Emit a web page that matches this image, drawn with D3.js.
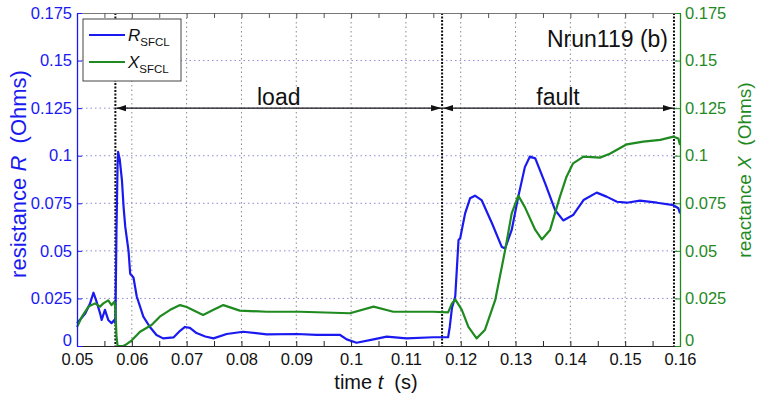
<!DOCTYPE html>
<html>
<head>
<meta charset="utf-8">
<script src="https://cdn.jsdelivr.net/npm/d3@7"></script>
<style>
  body { margin: 0; background: #fff; }
  svg { display: block; font-family: Arial, "Liberation Sans", sans-serif; }
</style>
</head>
<body>
<svg id="chart" width="760" height="397"></svg>
<script>
// SFCL resistance R (left axis) and reactance X (right axis) versus time, run Nrun119
const rTime = [0.0500,0.0509,0.0515,0.0524,0.0530,0.0536,0.0542,0.0545,0.0551,0.0557,0.0563,0.0568,0.0570,0.0572,0.0574,0.0575,0.0578,0.0582,0.0585,0.0588,0.0594,0.0597,0.0603,0.0609,0.0621,0.0633,0.0645,0.0657,0.0676,0.0688,0.0697,0.0706,0.0718,0.0734,0.0749,0.0773,0.0803,0.0846,0.0901,0.0937,0.0980,0.0992,0.1010,0.1041,0.1065,0.1101,0.1150,0.1177,0.1180,0.1184,0.1190,0.1196,0.1199,0.1208,0.1217,0.1226,0.1238,0.1257,0.1275,0.1281,0.1293,0.1305,0.1317,0.1326,0.1336,0.1354,0.1372,0.1387,0.1405,0.1424,0.1448,0.1466,0.1485,0.1503,0.1527,0.1558,0.1588,0.1597,0.1600];
const rValue = [0.012,0.015,0.017,0.0225,0.028,0.023,0.0173,0.0137,0.019,0.0137,0.012,0.0137,0.012,0.060,0.095,0.102,0.098,0.087,0.073,0.0627,0.050,0.038,0.036,0.026,0.0154,0.010,0.0058,0.004,0.0045,0.008,0.010,0.0095,0.0068,0.005,0.004,0.0063,0.0075,0.0061,0.0063,0.0058,0.0058,0.0035,0.0017,0.0035,0.0049,0.004,0.0046,0.0046,0.010,0.020,0.026,0.0557,0.0566,0.0697,0.0776,0.079,0.0767,0.0645,0.052,0.0513,0.061,0.0785,0.094,0.0995,0.0986,0.0855,0.0715,0.066,0.0688,0.0767,0.0806,0.0785,0.0758,0.0753,0.0764,0.0753,0.074,0.0724,0.0697];

const xTime = [0.0500,0.0509,0.0521,0.0533,0.0542,0.0548,0.0557,0.0563,0.0568,0.0570,0.0572,0.0574,0.0584,0.0588,0.0600,0.0615,0.0636,0.0651,0.0670,0.0688,0.0700,0.0730,0.0749,0.0767,0.0797,0.0846,0.0907,0.0998,0.1041,0.1077,0.1150,0.1177,0.1184,0.1190,0.1202,0.1214,0.1229,0.1244,0.1263,0.1281,0.1293,0.1305,0.1317,0.1336,0.1348,0.1363,0.1381,0.1393,0.1405,0.1424,0.1454,0.1472,0.1503,0.1533,0.1564,0.1588,0.1597,0.1600];
const xValue = [0.010,0.0154,0.0207,0.0224,0.0207,0.0224,0.024,0.0215,0.0233,0.020,0.005,0,0,0.0005,0.003,0.0075,0.011,0.0154,0.019,0.0215,0.0205,0.0163,0.019,0.0215,0.0186,0.018,0.018,0.0172,0.0207,0.018,0.018,0.0177,0.0224,0.0245,0.019,0.010,0.004,0.0084,0.0242,0.0504,0.0697,0.079,0.073,0.061,0.056,0.061,0.0785,0.089,0.096,0.0995,0.099,0.101,0.106,0.1074,0.1083,0.110,0.109,0.1056];

const timeTicks = [0.05,0.06,0.07,0.08,0.09,0.10,0.11,0.12,0.13,0.14,0.15,0.16];
const timeMinorTicks = [0.055,0.065,0.075,0.085,0.095,0.105,0.115,0.125,0.135,0.145,0.155];
const ohmTicks = [0,0.025,0.05,0.075,0.1,0.125,0.15,0.175];

// fault sequence markers: load start, fault start, end of record
const eventTimes = [0.0570,0.1166,0.1589];
const phaseNames = ["load","fault"];

const BLUE = "#1a1af0", GREEN = "#1f8a1f";

const svg = d3.select("#chart");
const L = 77, R = 680, T = 13, B = 346;

const x = d3.scaleLinear().domain([0.05,0.16]).range([L,R]);
const yR = d3.scaleLinear().domain([0,0.175]).range([B,T]);
const yX = d3.scaleLinear().domain([0,0.175]).range([B,T]);
const fmt = v => String(+v.toFixed(3));

// grid
const grid = svg.append("g");
grid.selectAll("line.v").data(timeTicks.slice(1,-1)).join("line")
  .attr("x1", d => x(d)).attr("x2", d => x(d)).attr("y1", T).attr("y2", B)
  .attr("stroke", "#8a8a8a").attr("stroke-width", 1).attr("stroke-dasharray", "1.5,3");
grid.selectAll("line.h").data(ohmTicks.slice(1,-1)).join("line")
  .attr("x1", L).attr("x2", R).attr("y1", d => yR(d)).attr("y2", d => yR(d))
  .attr("stroke", "#8c8cd8").attr("stroke-width", 1).attr("stroke-dasharray", "1.5,3");

// event markers
svg.append("g").selectAll("line").data(eventTimes).join("line")
  .attr("x1", d => x(d)).attr("x2", d => x(d)).attr("y1", T).attr("y2", B)
  .attr("stroke", "#111").attr("stroke-width", 2).attr("stroke-dasharray", "2,1.5");

// curves
const lineR = d3.line().x(d => x(d[0])).y(d => yR(d[1]));
const lineX = d3.line().x(d => x(d[0])).y(d => yX(d[1]));
svg.append("path").datum(d3.zip(rTime, rValue)).attr("d", lineR)
  .attr("fill", "none").attr("stroke", BLUE).attr("stroke-width", 2.2).attr("stroke-linejoin", "round");
svg.append("path").datum(d3.zip(xTime, xValue)).attr("d", lineX)
  .attr("fill", "none").attr("stroke", GREEN).attr("stroke-width", 2.2).attr("stroke-linejoin", "round");

// phase arrows
const defs = svg.append("defs");
defs.append("marker").attr("id", "head").attr("viewBox", "0 0 10 8")
  .attr("refX", 10).attr("refY", 4).attr("markerWidth", 10).attr("markerHeight", 8)
  .attr("markerUnits", "userSpaceOnUse").attr("orient", "auto-start-reverse")
  .append("path").attr("d", "M0,0.8 L10,4 L0,7.2 Z").attr("fill", "#111");
const arrowY = yR(0.125);
const phases = phaseNames.map((name, i) => ({ name, t0: eventTimes[i], t1: eventTimes[i+1] }));
const ph = svg.append("g").selectAll("g").data(phases).join("g");
ph.append("line")
  .attr("x1", d => x(d.t0) + 1).attr("x2", d => x(d.t1) - 1)
  .attr("y1", arrowY).attr("y2", arrowY)
  .attr("stroke", "#111").attr("stroke-width", 1.3)
  .attr("marker-start", "url(#head)").attr("marker-end", "url(#head)");
ph.append("text")
  .attr("x", d => (x(d.t0) + x(d.t1)) / 2).attr("y", arrowY - 3)
  .attr("text-anchor", "middle").attr("font-size", 23).attr("fill", "#111")
  .text(d => d.name);

// axes
const axB = svg.append("g").attr("transform", `translate(0,${B})`)
  .call(d3.axisBottom(x).tickValues(timeTicks).tickFormat(fmt).tickSizeInner(-5).tickSizeOuter(0).tickPadding(7));
const axBm = svg.append("g").attr("transform", `translate(0,${B})`)
  .call(d3.axisBottom(x).tickValues(timeMinorTicks).tickFormat("").tickSizeInner(-5).tickSizeOuter(0));
const axT = svg.append("g").attr("transform", `translate(0,${T})`)
  .call(d3.axisTop(x).tickValues(timeTicks.concat(timeMinorTicks)).tickFormat("").tickSizeInner(-5).tickSizeOuter(0));
[axB, axBm].forEach(a => { a.select(".domain").attr("stroke", "#222"); a.selectAll("line").attr("stroke", "#222"); });
axT.select(".domain").attr("stroke", "#777"); axT.selectAll("line").attr("stroke", "#555");
axB.selectAll("text").attr("font-size", 16.5).attr("fill", "#111").attr("font-family", null);

const axL = svg.append("g").attr("transform", `translate(${L},0)`)
  .call(d3.axisLeft(yR).tickValues(ohmTicks).tickFormat(fmt).tickSizeInner(-5).tickSizeOuter(0).tickPadding(5));
axL.select(".domain").attr("stroke", BLUE).attr("stroke-width", 1.3);
axL.selectAll("line").attr("stroke", BLUE);
axL.selectAll("text").attr("font-size", 16.5).attr("fill", BLUE).attr("font-family", null);

const axR = svg.append("g").attr("transform", `translate(${R},0)`)
  .call(d3.axisRight(yX).tickValues(ohmTicks).tickFormat(fmt).tickSizeInner(-5).tickSizeOuter(0).tickPadding(5));
axR.select(".domain").attr("stroke", GREEN).attr("stroke-width", 1.3);
axR.selectAll("line").attr("stroke", GREEN);
axR.selectAll("text").attr("font-size", 16.5).attr("fill", GREEN).attr("font-family", null);

// the zero labels sit just above the time labels
axL.selectAll(".tick text").filter(d => d === 0).attr("dy", "-0.02em");
axR.selectAll(".tick text").filter(d => d === 0).attr("dy", "-0.02em");

// axis titles
const tB = svg.append("text").attr("x", 376).attr("y", 389).attr("text-anchor", "middle")
  .attr("font-size", 20).attr("fill", "#111");
tB.append("tspan").text("time ");
tB.append("tspan").attr("font-style", "italic").text("t");
tB.append("tspan").text("\u00a0 (s)");

const tL = svg.append("text").attr("transform", "translate(26,174) rotate(-90)").attr("text-anchor", "middle")
  .attr("font-size", 22).attr("fill", BLUE);
tL.append("tspan").text("resistance ");
tL.append("tspan").attr("font-style", "italic").text("R");
tL.append("tspan").text("\u00a0 (Ohms)");

const tR = svg.append("text").attr("transform", "translate(751,170) rotate(-90)").attr("text-anchor", "middle")
  .attr("font-size", 19).attr("fill", GREEN);
tR.append("tspan").text("reactance ");
tR.append("tspan").attr("font-style", "italic").text("X");
tR.append("tspan").text("\u00a0 (Ohms)");

// run label
svg.append("text").attr("x", 668).attr("y", 47).attr("text-anchor", "end")
  .attr("font-size", 23).attr("fill", "#111").text("Nrun119 (b)");

// legend
const leg = svg.append("g");
leg.append("rect").attr("x", 83).attr("y", 19).attr("width", 98).attr("height", 62)
  .attr("fill", "#fff").attr("stroke", "#444").attr("stroke-width", 1);
const legendItems = [{ sym: "R", color: BLUE }, { sym: "X", color: GREEN }];
const li = leg.selectAll("g").data(legendItems).join("g")
  .attr("transform", (d, i) => `translate(0,${35 + i * 27})`);
li.append("line").attr("x1", 89).attr("x2", 125).attr("stroke", d => d.color).attr("stroke-width", 2);
const lt = li.append("text").attr("x", 128).attr("y", 6).attr("fill", "#111").attr("font-size", 17);
lt.append("tspan").attr("font-style", "italic").text(d => d.sym);
lt.append("tspan").attr("font-size", 11.5).attr("dy", 5).text("SFCL");
</script>
</body>
</html>
